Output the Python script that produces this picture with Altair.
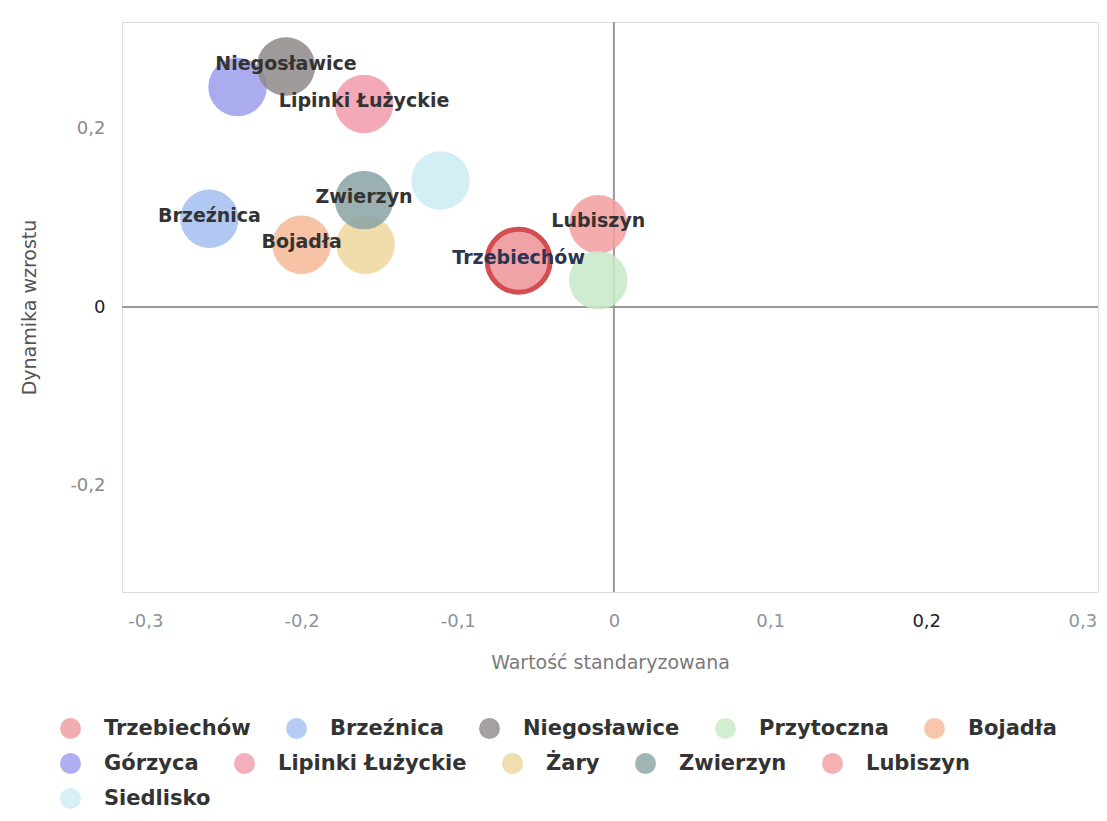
import altair as alt
import pandas as pd

# data
gminy = ["Górzyca", "Niegosławice", "Lipinki Łużyckie", "Żary", "Bojadła", "Zwierzyn",
         "Brzeźnica", "Siedlisko", "Przytoczna", "Lubiszyn", "Trzebiechów"]
wartosc = [-0.241, -0.210, -0.160, -0.159, -0.200, -0.160, -0.259, -0.111, -0.010, -0.010, -0.061]
dynamika = [0.247, 0.270, 0.228, 0.070, 0.070, 0.120, 0.099, 0.142, 0.030, 0.093, 0.052]

# legend rows and colours
wiersz1 = ["Trzebiechów", "Brzeźnica", "Niegosławice", "Przytoczna", "Bojadła"]
kolory1 = ["#ee9a9e", "#a3c0f0", "#8f8888", "#c8e8c8", "#f6b896"]
wiersz2 = ["Górzyca", "Lipinki Łużyckie", "Żary", "Zwierzyn", "Lubiszyn"]
kolory2 = ["#9c9cec", "#f29aac", "#eed69c", "#8aa3a3", "#f29e9e"]
wiersz3 = ["Siedlisko"]
kolory3 = ["#cdebf5"]

podpisy = ["Niegosławice", "Lipinki Łużyckie", "Zwierzyn", "Brzeźnica", "Bojadła",
           "Lubiszyn", "Trzebiechów"]
wyrozniona = "Trzebiechów"
kolor_wyrozniona = "#ee9a9e"

df = pd.DataFrame({"gmina": gminy, "x": wartosc, "y": dynamika})
df["order"] = range(len(df))

x_ticks = [-0.3, -0.2, -0.1, 0.0, 0.1, 0.2, 0.3]
y_ticks = [-0.2, 0.0, 0.2]

label_expr = ("datum.value == 0 ? '0' : "
              "replace(replace(format(datum.value, '.1f'), '.', ','), '\u2212', '-')")

xscale = alt.Scale(domain=[-0.315, 0.31], nice=False, zero=False)
yscale = alt.Scale(domain=[-0.32, 0.32], nice=False, zero=False)

xenc = alt.X("x:Q", scale=xscale,
             axis=alt.Axis(values=x_ticks, labelExpr=label_expr, grid=False, domain=False,
                           ticks=False, labelPadding=20, labelFontSize=18,
                           labelFont="DejaVu Sans",
                           labelColor={"condition": {"test": "abs(datum.value - 0.2) < 1e-6",
                                                     "value": "#222222"},
                                       "value": "#8a94a0"},
                           title="Wartość standaryzowana", titleFontSize=19,
                           titleFont="DejaVu Sans", titleFontWeight="normal",
                           titleColor="#7a7a7a", titlePadding=23))
yenc = alt.Y("y:Q", scale=yscale,
             axis=alt.Axis(values=y_ticks, labelExpr=label_expr, grid=False, domain=False,
                           ticks=False, labelPadding=17, labelFontSize=18,
                           labelFont="DejaVu Sans",
                           labelColor={"condition": {"test": "datum.value == 0",
                                                     "value": "#222222"},
                                       "value": "#8a8a8a"},
                           title="Dynamika wzrostu", titleFontSize=19,
                           titleFont="DejaVu Sans", titleFontWeight="normal",
                           titleColor="#555555", titlePadding=30))


def legend_color(domain, rng, ly):
    return alt.Color("gmina:N", scale=alt.Scale(domain=domain, range=rng),
                     legend=alt.Legend(title=None, orient="none", legendX=-62, legendY=ly,
                                       direction="horizontal", columnPadding=35,
                                       symbolType="circle", symbolSize=440,
                                       symbolStrokeWidth=0, symbolOpacity=0.8,
                                       labelFont="DejaVu Sans", labelFontWeight="bold",
                                       labelFontSize=21, labelColor="#333333",
                                       labelOffset=23, labelLimit=400))


base = alt.Chart(df)

zero_x = alt.Chart(pd.DataFrame({"v": [0.0]})).mark_rule(color="#9a9a9a", strokeWidth=2).encode(
    x=alt.X("v:Q", scale=xscale))
zero_y = alt.Chart(pd.DataFrame({"v": [0.0]})).mark_rule(color="#9a9a9a", strokeWidth=2).encode(
    y=alt.Y("v:Q", scale=yscale))


def bubble_layer(domain, rng, ly):
    return base.transform_filter(
        alt.FieldOneOfPredicate(field="gmina", oneOf=[g for g in domain if g != wyrozniona])
    ).mark_circle(opacity=0.85, size=3420).encode(
        x=xenc, y=yenc, color=legend_color(domain, rng, ly), order="order:Q")


b3 = bubble_layer(wiersz3, kolory3, 766)
b2 = bubble_layer(wiersz2, kolory2, 731)
b1 = bubble_layer(wiersz1, kolory1, 696)

special = base.transform_filter(alt.datum.gmina == wyrozniona).mark_point(
    shape="circle", filled=True, opacity=0.9, size=3960, stroke="#d03a3f",
    strokeWidth=5, fill=kolor_wyrozniona).encode(x=xenc, y=yenc)

labels = base.transform_filter(alt.FieldOneOfPredicate(field="gmina", oneOf=podpisy)).mark_text(
    font="DejaVu Sans", fontWeight="bold", fontSize=19, baseline="middle", align="center",
    dy=-3).encode(
    x=xenc, y=yenc, text="gmina:N",
    color=alt.condition(alt.datum.gmina == wyrozniona, alt.value("#2b3452"), alt.value("#333333")))

chart = alt.layer(zero_y, zero_x, b3, b2, b1, special, labels).resolve_scale(
    color="independent").properties(
    width=976, height=570,
    autosize=alt.AutoSizeParams(type="none"),
    padding={"left": 114, "top": 14, "right": 1, "bottom": 221},
).configure_view(stroke="#e2e2e2", strokeWidth=1.5).configure(background="white")

chart.save("out.html", embed_options={"renderer": "svg", "actions": False})
